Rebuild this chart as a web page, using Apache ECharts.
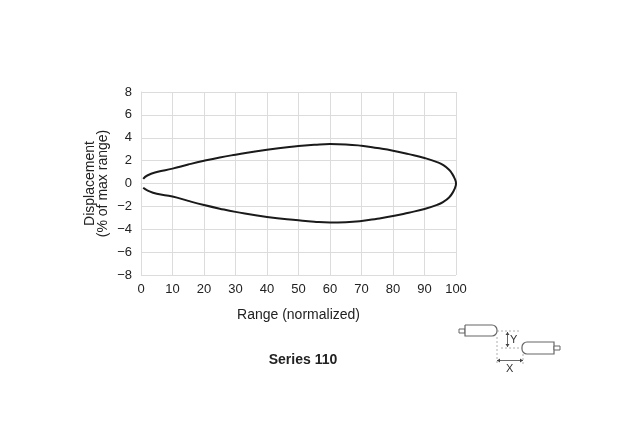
<!DOCTYPE html>
<html>
<head>
<meta charset="utf-8">
<script src="https://cdn.jsdelivr.net/npm/echarts@6/dist/echarts.min.js"></script>
<style>
  html, body { margin: 0; padding: 0; background: #fff; }
  #chart { width: 631px; height: 440px; }
</style>
</head>
<body>
<div id="chart"></div>
<script>
// upper branch of the envelope, left to right
const rangeUpper = [0.7, 2, 5, 10, 15, 20, 25, 30, 40, 50, 55, 60, 65, 70, 75, 80, 85, 90, 94, 96, 97.8, 98.9, 99.6, 99.9, 100];
const dispUpper = [0.4, 0.7, 1.0, 1.3, 1.66, 1.99, 2.28, 2.52, 2.96, 3.27, 3.38, 3.45, 3.42, 3.3, 3.1, 2.87, 2.57, 2.23, 1.87, 1.6, 1.2, 0.8, 0.42, 0.2, 0];
// lower branch, left to right (drawn back from 100)
const rangeLower = [0.7, 2, 5, 10, 15, 20, 25, 30, 40, 50, 55, 60, 65, 70, 75, 80, 85, 90, 94, 96, 97.8, 98.9, 99.6, 99.9];
const dispLower = [-0.38, -0.6, -0.9, -1.13, -1.52, -1.88, -2.2, -2.48, -2.93, -3.22, -3.34, -3.4, -3.38, -3.28, -3.08, -2.85, -2.55, -2.23, -1.87, -1.6, -1.22, -0.82, -0.44, -0.2];

const xTicks = [0, 10, 20, 30, 40, 50, 60, 70, 80, 90, 100];
const yTicks = [-8, -6, -4, -2, 0, 2, 4, 6, 8];

const envelope = rangeUpper.map((x, i) => [x, dispUpper[i]]);
for (let i = rangeLower.length - 1; i >= 0; i--) {
  envelope.push([rangeLower[i], dispLower[i]]);
}

const FONT = 'Liberation Sans, Arial, sans-serif';
const GRID = '#dcdcdc';
const PART = '#666';

const chart = echarts.init(document.getElementById('chart'));

chart.setOption({
  backgroundColor: '#ffffff',
  animation: false,
  title: {
    text: 'Series 110',
    left: 298,
    top: 348,
    textAlign: 'center',
    textStyle: { fontFamily: FONT, fontSize: 14, fontWeight: 'bold', color: '#222' },
  },
  grid: { left: 141, right: 175, top: 92, bottom: 165 },
  xAxis: {
    type: 'value',
    min: xTicks[0],
    max: xTicks[xTicks.length - 1],
    interval: 10,
    name: 'Range (normalized)',
    nameLocation: 'middle',
    nameGap: 33,
    nameTextStyle: { fontFamily: FONT, fontSize: 14, color: '#222' },
    axisLine: { lineStyle: { color: GRID } },
    axisTick: { show: false },
    axisLabel: { fontFamily: FONT, fontSize: 13, color: '#222', margin: 8 },
    splitLine: { show: true, lineStyle: { color: GRID } },
  },
  yAxis: {
    type: 'value',
    min: yTicks[0],
    max: yTicks[yTicks.length - 1],
    interval: 2,
    name: 'Displacement\n(% of max range)',
    nameLocation: 'middle',
    nameRotate: 90,
    nameGap: 31,
    nameTextStyle: { fontFamily: FONT, fontSize: 14, color: '#222', lineHeight: 13.5 },
    axisLine: { show: true, lineStyle: { color: GRID } },
    axisTick: { show: false },
    axisLabel: {
      fontFamily: FONT, fontSize: 13, color: '#222', margin: 9,
      formatter: (v) => (v < 0 ? '\u2212' + Math.abs(v) : String(v)),
    },
    splitLine: { show: true, lineStyle: { color: GRID } },
  },
  series: [
    {
      type: 'line',
      data: envelope,
      smooth: 0.5,
      showSymbol: false,
      lineStyle: { color: '#1a1a1a', width: 2 },
    },
  ],
  graphic: [
    // left cylinder
    { type: 'rect', shape: { x: 459, y: 329, width: 6, height: 4 }, style: { fill: '#fff', stroke: PART, lineWidth: 1 } },
    { type: 'rect', shape: { x: 465, y: 325, width: 32, height: 11, r: [0, 5, 5, 0] }, style: { fill: '#fff', stroke: PART, lineWidth: 1.2 } },
    // right cylinder
    { type: 'rect', shape: { x: 522, y: 342, width: 32, height: 12, r: [5, 0, 0, 5] }, style: { fill: '#fff', stroke: PART, lineWidth: 1.2 } },
    { type: 'rect', shape: { x: 554, y: 346, width: 6, height: 4 }, style: { fill: '#fff', stroke: PART, lineWidth: 1 } },
    // dashed guides
    { type: 'line', shape: { x1: 497, y1: 331, x2: 521, y2: 331 }, style: { stroke: '#999', lineWidth: 0.8, lineDash: [2, 2] } },
    { type: 'line', shape: { x1: 497, y1: 337, x2: 497, y2: 364 }, style: { stroke: '#999', lineWidth: 0.8, lineDash: [2, 2] } },
    { type: 'line', shape: { x1: 501, y1: 348, x2: 522, y2: 348 }, style: { stroke: '#999', lineWidth: 0.8, lineDash: [2, 2] } },
    { type: 'line', shape: { x1: 523, y1: 354, x2: 523, y2: 364 }, style: { stroke: '#999', lineWidth: 0.8, lineDash: [2, 2] } },
    // Y dimension
    { type: 'line', shape: { x1: 507.5, y1: 332, x2: 507.5, y2: 347 }, style: { stroke: '#444', lineWidth: 0.8 } },
    { type: 'polygon', shape: { points: [[505.5, 335], [509.5, 335], [507.5, 332]] }, style: { fill: '#444' } },
    { type: 'polygon', shape: { points: [[505.5, 344], [509.5, 344], [507.5, 347]] }, style: { fill: '#444' } },
    { type: 'text', style: { text: 'Y', x: 510, y: 334, fontFamily: FONT, fontSize: 11, fill: '#333' } },
    // X dimension
    { type: 'line', shape: { x1: 497, y1: 360.5, x2: 523, y2: 360.5 }, style: { stroke: '#444', lineWidth: 0.8 } },
    { type: 'polygon', shape: { points: [[500, 358.5], [500, 362.5], [497, 360.5]] }, style: { fill: '#444' } },
    { type: 'polygon', shape: { points: [[520, 358.5], [520, 362.5], [523, 360.5]] }, style: { fill: '#444' } },
    { type: 'text', style: { text: 'X', x: 506, y: 363, fontFamily: FONT, fontSize: 11, fill: '#333' } },
  ],
});
</script>
</body>
</html>
